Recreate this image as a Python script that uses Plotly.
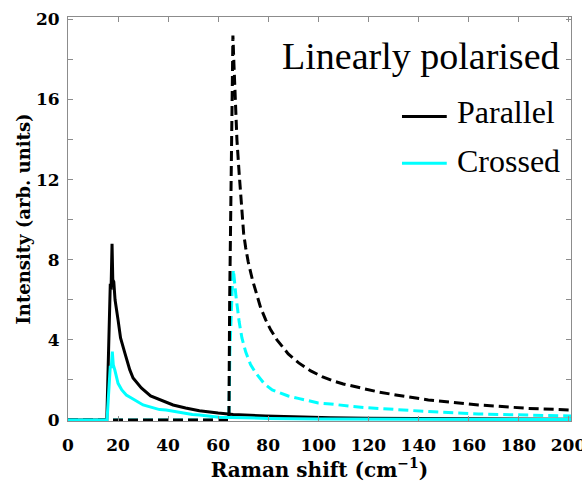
import plotly.graph_objects as go

# ---- data ----
par_x = [0, 15.5, 16.9, 17.2, 17.6, 17.9, 18.3, 18.8, 20, 21, 22.7, 24.7, 26, 29.3, 33, 37.8, 42, 47,
         52.5, 60, 66, 79, 90, 105, 120, 140, 160, 180, 201]
par_y = [0, 0, 6.8, 6.5, 8.8, 7.0, 6.9, 6.0, 5.0, 4.1, 3.35, 2.5, 2.1, 1.6, 1.2, 0.95, 0.75, 0.6,
         0.46, 0.35, 0.28, 0.2, 0.15, 0.11, 0.09, 0.07, 0.06, 0.05, 0.04]

cro_x = [0, 15.6, 16.9, 17.3, 17.7, 18.1, 18.7, 20, 21.5, 23.3, 26, 30, 36.6, 39.2, 49.7, 52.5, 60.4,
         70, 80, 100, 120, 150, 201]
cro_y = [0, 0, 2.7, 2.6, 3.42, 2.75, 2.5, 1.83, 1.5, 1.25, 1.05, 0.75, 0.52, 0.5, 0.27, 0.25, 0.14,
         0.1, 0.08, 0.05, 0.04, 0.03, 0.02]

par2_x = [0, 64.3, 64.6, 65.0, 65.3, 65.6, 65.9, 66.3, 66.8, 67.5, 68.4, 69.4, 70.2, 71, 72, 73.7, 75,
          77, 79, 81, 83.5, 88, 92.2, 97, 101.5, 106, 110, 115, 119, 124, 131, 144, 164, 184, 201]
par2_y = [0, 0, 6, 11, 13.5, 16.5, 19.2, 17.8, 15.8, 14.0, 12.3, 10.4, 9.3, 8.6, 7.9, 7.0, 6.4,
          5.6, 5.0, 4.5, 4.0, 3.3, 2.85, 2.45, 2.17, 1.95, 1.8, 1.65, 1.52, 1.4, 1.25, 1.0, 0.75, 0.58, 0.5]

cro2_x = [0, 64.3, 64.7, 65.2, 65.7, 66.1, 66.6, 67.1, 68.4, 69.5, 71, 73, 75, 76.3, 78.5, 81.6, 84.3,
          88, 92, 95, 100, 105, 108, 114, 119, 124, 131.3, 144, 164, 184, 201]
cro2_y = [0, 0, 3.5, 5.5, 6.8, 7.5, 6.8, 6.2, 4.9, 4.1, 3.4, 2.75, 2.35, 2.15, 1.8, 1.5, 1.38,
          1.2, 1.08, 0.98, 0.85, 0.8, 0.75, 0.67, 0.62, 0.58, 0.5, 0.42, 0.3, 0.25, 0.2]

series_names = ["Parallel", "Crossed"]
series_colors = ["#000000", "#00FFFF"]

x_ticks = list(range(0, 201, 20))
y_ticks = list(range(0, 21, 4))

# ---- figure ----
fig = go.Figure()
dash = "10px,5px"
fig.add_trace(go.Scatter(x=cro2_x, y=cro2_y, mode="lines", name="Crossed (dashed)",
                         line=dict(color=series_colors[1], width=3, dash=dash), showlegend=False))
fig.add_trace(go.Scatter(x=par2_x, y=par2_y, mode="lines", name="Parallel (dashed)",
                         line=dict(color=series_colors[0], width=3, dash=dash), showlegend=False))
fig.add_trace(go.Scatter(x=par_x, y=par_y, mode="lines", name=series_names[0],
                         line=dict(color=series_colors[0], width=3), showlegend=False))
fig.add_trace(go.Scatter(x=cro_x, y=cro_y, mode="lines", name=series_names[1],
                         line=dict(color=series_colors[1], width=3), showlegend=False))

axis_col = "#8c8c8c"
tickfont = dict(family="DejaVu Serif", size=17, color="black", weight="bold")
fig.update_xaxes(range=[0, 201], tickvals=x_ticks, ticks="inside", ticklen=5, tickcolor=axis_col,
                 showline=True, linecolor=axis_col, linewidth=1, mirror="ticks", showgrid=False,
                 zeroline=False, tickfont=tickfont, ticklabelstandoff=9, automargin=False,
                 ticklabeloverflow="allow",
                 title=dict(text="Raman shift (cm<sup>−1</sup>)", standoff=4,
                            font=dict(family="DejaVu Serif", size=20, color="black", weight="bold")))
fig.update_yaxes(range=[-0.05, 20.12], tickvals=y_ticks, ticks="inside", ticklen=5,
                 tickcolor=axis_col, showline=True, linecolor=axis_col, linewidth=1, mirror="ticks",
                 minor=dict(dtick=2, ticks="inside", ticklen=5, tickcolor=axis_col, showgrid=False),
                 showgrid=False, zeroline=False, tickfont=tickfont, ticklabelstandoff=4,
                 automargin=False,
                 title=dict(text="Intensity (arb. units)", standoff=0,
                            font=dict(family="DejaVu Serif", size=18, color="black", weight="bold")))

# title inside plot + legend
fig.add_annotation(x=0.982, y=0.903, xref="paper", yref="paper", xanchor="right", yanchor="middle",
                   text="Linearly polarised", showarrow=False,
                   font=dict(family="Liberation Serif", size=38, color="black"))
leg_y_line = [0.754, 0.638]
leg_y_text = [0.764, 0.644]
for name, col, yl, yt in zip(series_names, series_colors, leg_y_line, leg_y_text):
    fig.add_shape(type="line", xref="paper", yref="paper", x0=0.664, x1=0.753, y0=yl, y1=yl,
                  line=dict(color=col, width=3))
    fig.add_annotation(x=0.769, y=yt, xref="paper", yref="paper", xanchor="left", yanchor="middle",
                       text=name, showarrow=False,
                       font=dict(family="Liberation Serif", size=32, color="black"))

fig.update_layout(width=582, height=486, margin=dict(l=68, r=11, t=17, b=65),
                  paper_bgcolor="white", plot_bgcolor="white", showlegend=False)
fig.write_html("out.html", config={"displayModeBar": False},
               post_script="document.body.style.margin='0';document.body.style.padding='0';")
